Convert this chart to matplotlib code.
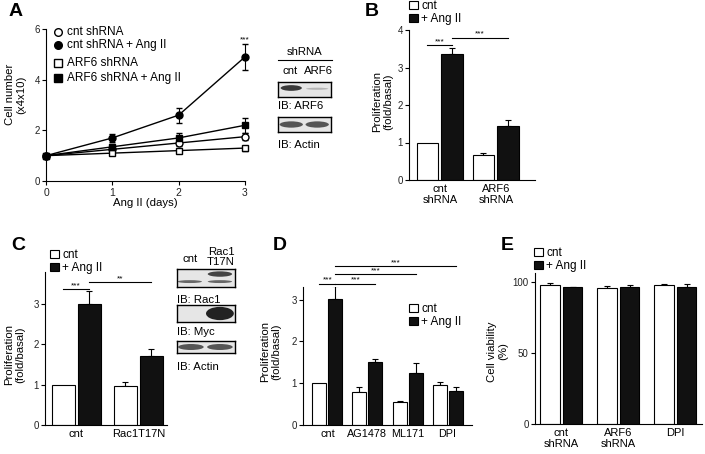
import numpy as np
import matplotlib
matplotlib.use('Agg')
import matplotlib.pyplot as plt
from matplotlib.patches import Ellipse

plt.rcParams['font.family'] = ['Liberation Sans', 'DejaVu Sans']
plt.rcParams['font.size'] = 8.2

W, H = 705, 454

# ---- panel A: cell number over time ----
days = [0, 1, 2, 3]
cnt_sh = [1.0, 1.25, 1.5, 1.75]
cnt_sh_err = [0, 0.08, 0.12, 0.15]
cnt_sh_ang = [1.0, 1.7, 2.6, 4.9]
cnt_sh_ang_err = [0, 0.17, 0.3, 0.5]
arf6_sh = [1.0, 1.1, 1.2, 1.3]
arf6_sh_err = [0, 0.05, 0.07, 0.1]
arf6_sh_ang = [1.0, 1.35, 1.7, 2.2]
arf6_sh_ang_err = [0, 0.12, 0.2, 0.3]

# ---- panel B ----
b_groups = ['cnt\nshRNA', 'ARF6\nshRNA']
b_cnt = [1.0, 0.67]
b_cnt_err = [0, 0.05]
b_ang = [3.35, 1.43]
b_ang_err = [0.17, 0.17]

# ---- panel C ----
c_groups = ['cnt', 'Rac1T17N']
c_cnt = [1.0, 0.97]
c_cnt_err = [0, 0.1]
c_ang = [3.0, 1.72]
c_ang_err = [0.33, 0.18]

# ---- panel D ----
d_groups = ['cnt', 'AG1478', 'ML171', 'DPI']
d_cnt = [1.0, 0.79, 0.54, 0.95]
d_cnt_err = [0, 0.13, 0.03, 0.08]
d_ang = [3.02, 1.5, 1.25, 0.82]
d_ang_err = [0.3, 0.09, 0.23, 0.09]

# ---- panel E ----
e_groups = ['cnt\nshRNA', 'ARF6\nshRNA', 'DPI']
e_cnt = [97.5, 95.6, 97.8]
e_cnt_err = [1.3, 1.6, 0.7]
e_ang = [96.0, 96.0, 96.0]
e_ang_err = [0.4, 1.9, 2.3]


def px_rect(l, t, r, b):
    return [l / W, 1 - b / H, (r - l) / W, (b - t) / H]


def style(ax, xticks=False):
    ax.spines['top'].set_visible(False)
    ax.spines['right'].set_visible(False)
    ax.spines['left'].set_linewidth(0.8)
    ax.spines['bottom'].set_linewidth(0.8)
    ax.tick_params(axis='y', length=3, width=0.8, pad=1.5, labelsize=7, labelcolor='#222222')
    if xticks:
        ax.tick_params(axis='x', length=3, width=0.8, pad=2, labelsize=7.5, labelcolor='#222222')
    else:
        ax.tick_params(axis='x', length=0, pad=3, labelsize=8)


def bars(ax, groups, cnt, cnt_err, ang, ang_err, off, width):
    x = np.arange(len(groups))
    b1 = ax.bar(x - off, cnt, width, color='white', edgecolor='black', linewidth=0.8, zorder=2)
    b2 = ax.bar(x + off, ang, width, color='#111111', edgecolor='black', linewidth=0.8, zorder=2)
    for xs, vals, errs in [(x - off, cnt, cnt_err), (x + off, ang, ang_err)]:
        for xi, v, e in zip(xs, vals, errs):
            if e > 0:
                ax.errorbar([xi], [v], yerr=[[0], [e]], fmt='none', ecolor='black',
                            elinewidth=0.8, capsize=2.5, capthick=0.8, zorder=1)
    ax.set_xticks(x)
    ax.set_xticklabels(groups, linespacing=1.1)
    return x, b1, b2


def sig(ax, x1, x2, y, label):
    ax.plot([x1, x2], [y, y], color='black', lw=0.8, clip_on=False)
    ax.text((x1 + x2) / 2, y, label, ha='center', va='bottom', fontsize=6, clip_on=False)


def bar_legend(ax, b1, b2, x, y):
    ax.legend([b1, b2], ['cnt', '+ Ang II'], loc='upper left', bbox_to_anchor=(x, y),
              bbox_transform=fig.transFigure, frameon=False, handlelength=0.75,
              handleheight=0.75, handletextpad=0.3, labelspacing=0.1,
              borderpad=0, borderaxespad=0, fontsize=8.5)


def blot(rect, bands):
    bax = fig.add_axes(rect)
    bax.set_xlim(0, 1)
    bax.set_ylim(0, 1)
    bax.set_xticks([])
    bax.set_yticks([])
    bax.set_facecolor('#e6e6e6')
    for sp in bax.spines.values():
        sp.set_linewidth(1.0)
    for xc, yc, w, h, col in bands:
        bax.add_patch(Ellipse((xc, yc), w, h, color=col, lw=0))
    return bax


fig = plt.figure(figsize=(W / 100, H / 100), dpi=100)

# ================= A =================
axA = fig.add_axes(px_rect(46, 29, 245, 181))
style(axA, xticks=True)
series = [
    (cnt_sh, cnt_sh_err, 'o', 'white'),
    (cnt_sh_ang, cnt_sh_ang_err, 'o', 'black'),
    (arf6_sh, arf6_sh_err, 's', 'white'),
    (arf6_sh_ang, arf6_sh_ang_err, 's', 'black'),
]
for vals, errs, mk, fc in series:
    axA.errorbar(days, vals, yerr=errs, color='black', lw=1.0, marker=mk, ms=5,
                 mfc=fc, mec='black', mew=1.0, ecolor='black', elinewidth=0.8,
                 capsize=2.5, capthick=0.8, clip_on=False, zorder=3)
axA.set_xlim(0, 3)
axA.set_ylim(0, 6)
axA.set_xticks(days)
axA.set_yticks([0, 2, 4, 6])
axA.set_xlabel('Ang II (days)')
axA.xaxis.set_label_coords(0.5, -0.115)
axA.set_ylabel('Cell number\n(x4x10)', linespacing=1.1)
axA.yaxis.set_label_coords(-0.10, 0.57)
axA.text(3, 5.45, '***', ha='center', va='bottom', fontsize=6)

leg_names = ['cnt shRNA', 'cnt shRNA + Ang II', 'ARF6 shRNA', 'ARF6 shRNA + Ang II']
leg_y = [0.98, 0.895, 0.776, 0.678]
for (vals, errs, mk, fc), name, yy in zip(series, leg_names, leg_y):
    axA.plot([0.06], [yy], marker=mk, ms=5.5, mfc=fc, mec='black', mew=1.0,
             transform=axA.transAxes, clip_on=False)
    axA.text(0.105, yy, name, transform=axA.transAxes, va='center', ha='left', fontsize=8.5)

# blot A
fig.text(305 / W, 1 - 52 / H, 'shRNA', ha='center', va='center')
fig.add_artist(plt.Line2D([278 / W, 332 / W], [1 - 60 / H, 1 - 60 / H], color='black', lw=0.8))
fig.text(290 / W, 1 - 71 / H, 'cnt', ha='center', va='center')
fig.text(318 / W, 1 - 71 / H, 'ARF6', ha='center', va='center')
blot(px_rect(278, 82, 331, 97), [(0.25, 0.6, 0.4, 0.38, '#3a3a3a'),
                                 (0.74, 0.55, 0.42, 0.14, '#b5b5b5')])
fig.text(278 / W, 1 - 106 / H, 'IB: ARF6', ha='left', va='center')
blot(px_rect(278, 117, 331, 132), [(0.25, 0.5, 0.44, 0.42, '#555555'),
                                   (0.74, 0.5, 0.44, 0.42, '#555555')])
fig.text(278 / W, 1 - 145 / H, 'IB: Actin', ha='left', va='center')

# ================= B =================
axB = fig.add_axes(px_rect(409, 30, 535, 180))
style(axB)
xb, b1, b2 = bars(axB, b_groups, b_cnt, b_cnt_err, b_ang, b_ang_err, 0.22, 0.39)
axB.set_xlim(-0.55, 1.70)
axB.set_ylim(0, 4)
axB.set_yticks([0, 1, 2, 3, 4])
axB.set_ylabel('Proliferation\n(fold/basal)', linespacing=1.1)
axB.yaxis.set_label_coords(-0.127, 0.52)
sig(axB, xb[0] - 0.22, xb[0] + 0.22, 3.6, '***')
sig(axB, xb[0] + 0.22, xb[1] + 0.22, 3.8, '***')
bar_legend(axB, b1, b2, 409 / W, 1 - 0 / H)

# ================= C =================
axC = fig.add_axes(px_rect(45, 272, 167, 425))
style(axC)
xc, c1, c2 = bars(axC, c_groups, c_cnt, c_cnt_err, c_ang, c_ang_err, 0.21, 0.37)
axC.set_xlim(-0.5, 1.46)
axC.set_ylim(0, 3.8)
axC.set_yticks([0, 1, 2, 3])
axC.set_ylabel('Proliferation\n(fold/basal)', linespacing=1.1)
axC.yaxis.set_label_coords(-0.165, 0.46)
sig(axC, xc[0] - 0.21, xc[0] + 0.21, 3.38, '***')
sig(axC, xc[0] + 0.21, xc[1] + 0.21, 3.55, '**')
bar_legend(axC, c1, c2, 50 / W, 1 - 249 / H)

# blot C
fig.text(190 / W, 1 - 259 / H, 'cnt', ha='center', va='center')
fig.text(221 / W, 1 - 257 / H, 'Rac1\nT17N', ha='center', va='center', linespacing=1.05)
blot(px_rect(177, 269, 235, 287), [(0.22, 0.3, 0.42, 0.16, '#666666'),
                                   (0.74, 0.72, 0.42, 0.3, '#444444'),
                                   (0.74, 0.3, 0.42, 0.16, '#666666')])
fig.text(177 / W, 1 - 300 / H, 'IB: Rac1', ha='left', va='center')
blot(px_rect(177, 305, 235, 322), [(0.74, 0.5, 0.48, 0.78, '#222222')])
fig.text(177 / W, 1 - 332 / H, 'IB: Myc', ha='left', va='center')
blot(px_rect(177, 341, 235, 353), [(0.24, 0.5, 0.44, 0.5, '#555555'),
                                   (0.74, 0.5, 0.44, 0.5, '#555555')])
fig.text(177 / W, 1 - 367 / H, 'IB: Actin', ha='left', va='center')

# ================= D =================
axD = fig.add_axes(px_rect(303, 287, 472, 425))
style(axD)
xd, d1, d2 = bars(axD, d_groups, d_cnt, d_cnt_err, d_ang, d_ang_err, 0.2, 0.35)
axD.set_xlim(-0.61, 3.61)
axD.set_ylim(0, 3.3)
axD.set_yticks([0, 1, 2, 3])
axD.tick_params(axis='x', labelsize=7.8)
axD.set_ylabel('Proliferation\n(fold/basal)', linespacing=1.1)
axD.yaxis.set_label_coords(-0.13, 0.53)
sig(axD, xd[0] - 0.2, xd[0] + 0.2, 3.38, '***')
sig(axD, xd[0] + 0.2, xd[1] + 0.2, 3.38, '***')
sig(axD, xd[0] + 0.2, xd[2] + 0.2, 3.6, '***')
sig(axD, xd[0] + 0.2, xd[3] + 0.2, 3.8, '***')
bar_legend(axD, d1, d2, 409 / W, 1 - 303 / H)

# ================= E =================
axE = fig.add_axes(px_rect(535, 273, 702, 424))
style(axE)
xe, e1, e2 = bars(axE, e_groups, e_cnt, e_cnt_err, e_ang, e_ang_err, 0.2, 0.34)
axE.set_xlim(-0.46, 2.47)
axE.set_ylim(0, 106)
axE.set_yticks([0, 50, 100])
axE.set_ylabel('Cell viability\n(%)', linespacing=1.1)
axE.yaxis.set_label_coords(-0.16, 0.48)
bar_legend(axE, e1, e2, 534 / W, 1 - 247 / H)

# panel letters
for lab, x, y in [('A', 16, 12), ('B', 372, 12), ('C', 18, 245), ('D', 280, 245), ('E', 507, 245)]:
    fig.text(x / W, 1 - y / H, lab, ha='center', va='center', fontsize=14, fontweight='bold')

fig.savefig('out.png', dpi=100)
